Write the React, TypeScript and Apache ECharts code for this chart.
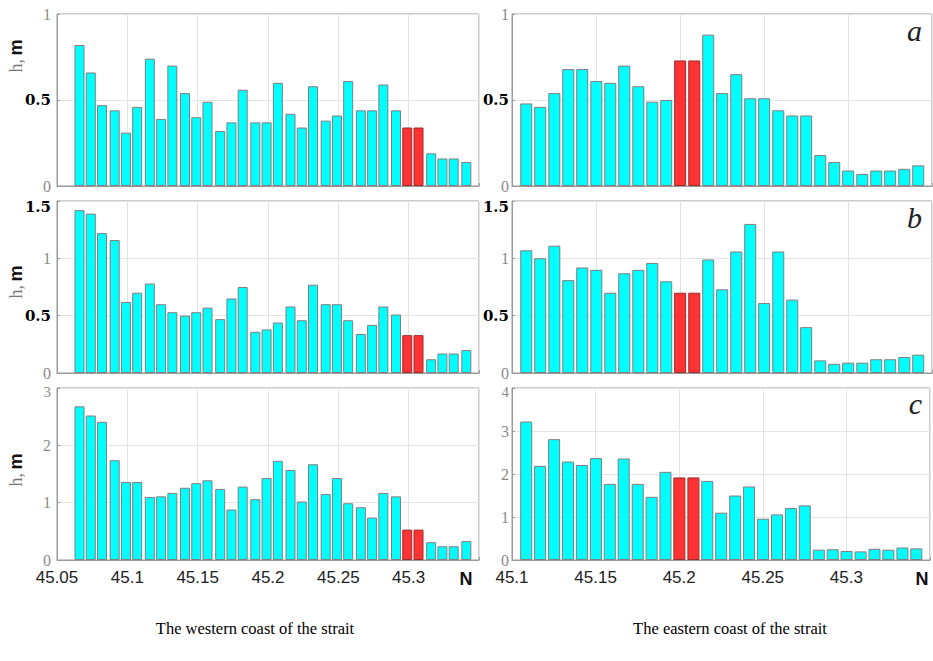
import React, { useEffect, useRef } from "react";
import * as echarts from "echarts";

// Latitudes (°N) of the coastal segments
const westLat = [
  45.066, 45.074, 45.082, 45.091, 45.099, 45.107, 45.116, 45.124, 45.132, 45.141,
  45.149, 45.157, 45.166, 45.174, 45.182, 45.191, 45.199, 45.207, 45.216, 45.224,
  45.232, 45.241, 45.249, 45.257, 45.266, 45.274, 45.282, 45.291, 45.299, 45.307,
  45.316, 45.324, 45.332, 45.341,
];
const eastLat = [
  45.1085, 45.1168, 45.1252, 45.1335, 45.1418, 45.1502, 45.1585, 45.1668, 45.1752, 45.1835,
  45.1918, 45.2001, 45.2085, 45.2168, 45.2251, 45.2335, 45.2418, 45.2501, 45.2585, 45.2668,
  45.2751, 45.2835, 45.2918, 45.3001, 45.3085, 45.3168, 45.3251, 45.3335, 45.3418,
];

// h, m — western coast
const westA = [
  0.82, 0.66, 0.47, 0.44, 0.31, 0.46, 0.74, 0.39, 0.7, 0.54,
  0.4, 0.49, 0.32, 0.37, 0.56, 0.37, 0.37, 0.6, 0.42, 0.34,
  0.58, 0.38, 0.41, 0.61, 0.44, 0.44, 0.59, 0.44, 0.34, 0.34,
  0.19, 0.16, 0.16, 0.14,
];
const westB = [
  1.42, 1.39, 1.22, 1.16, 0.62, 0.7, 0.78, 0.6, 0.53, 0.5,
  0.53, 0.57, 0.47, 0.65, 0.75, 0.36, 0.38, 0.44, 0.58, 0.46,
  0.77, 0.6, 0.6, 0.46, 0.34, 0.42, 0.58, 0.51, 0.33, 0.33,
  0.12, 0.17, 0.17, 0.2,
];
const westC = [
  2.68, 2.52, 2.41, 1.74, 1.36, 1.36, 1.1, 1.11, 1.17, 1.26,
  1.34, 1.39, 1.24, 0.88, 1.28, 1.06, 1.43, 1.73, 1.57, 1.02,
  1.67, 1.15, 1.43, 0.99, 0.92, 0.74, 1.17, 1.11, 0.53, 0.53,
  0.31, 0.24, 0.24, 0.33,
];

// h, m — eastern coast
const eastA = [
  0.48, 0.46, 0.54, 0.68, 0.68, 0.61, 0.6, 0.7, 0.58, 0.49,
  0.5, 0.73, 0.73, 0.88, 0.54, 0.65, 0.51, 0.51, 0.44, 0.41,
  0.41, 0.18, 0.14, 0.09, 0.07, 0.09, 0.09, 0.1, 0.12,
];
const eastB = [
  1.07, 1.0, 1.11, 0.81, 0.92, 0.9, 0.7, 0.87, 0.9, 0.96,
  0.8, 0.7, 0.7, 0.99, 0.73, 1.06, 1.3, 0.61, 1.06, 0.64,
  0.4, 0.11, 0.08, 0.09, 0.09, 0.12, 0.12, 0.14, 0.16,
];
const eastC = [
  3.22, 2.19, 2.81, 2.29, 2.21, 2.37, 1.77, 2.36, 1.77, 1.47,
  2.05, 1.92, 1.92, 1.84, 1.1, 1.5, 1.71, 0.96, 1.06, 1.21,
  1.27, 0.24, 0.25, 0.21, 0.2, 0.26, 0.24, 0.29, 0.27,
];

// indices of highlighted (red) segments
const westRed = [28, 29];
const eastRed = [11, 12];

const panelLetters = ["a", "b", "c"];
const yMax = [1, 1.5, 3, 1, 1.5, 4];
const yInterval = [0.5, 0.5, 1, 0.5, 0.5, 1];

const CYAN = "#00ffff";
const RED = "#ff3333";

export default function App() {
  const ref = useRef<HTMLDivElement>(null);

  useEffect(() => {
    if (!ref.current) return;
    const chart = echarts.init(ref.current, null, { renderer: "svg" });

    const tops = [14, 201, 388];
    const H = 172;
    const grids: any[] = [];
    const xAxes: any[] = [];
    const yAxes: any[] = [];
    const series: any[] = [];

    const panels = [
      { lat: westLat, vals: westA, red: westRed, side: 0, row: 0 },
      { lat: westLat, vals: westB, red: westRed, side: 0, row: 1 },
      { lat: westLat, vals: westC, red: westRed, side: 0, row: 2 },
      { lat: eastLat, vals: eastA, red: eastRed, side: 1, row: 0 },
      { lat: eastLat, vals: eastB, red: eastRed, side: 1, row: 1 },
      { lat: eastLat, vals: eastC, red: eastRed, side: 1, row: 2 },
    ];

    panels.forEach((p, i) => {
      const left = p.side === 0 ? 57 : 512;
      const width = p.side === 0 ? 422 : 420;
      grids.push({
        left,
        top: tops[p.row],
        width,
        height: H,
        show: true,
        borderColor: "#9a9a9a",
        borderWidth: 1,
        containLabel: false,
      });
      const bottomRow = p.row === 2;
      const topVal = yMax[i];
      xAxes.push({
        type: "value",
        gridIndex: i,
        min: p.side === 0 ? 45.05 : 45.1,
        max: 45.35,
        interval: 0.05,
        axisLine: { show: true, lineStyle: { color: "#9a9a9a" } },
        axisTick: { show: true, inside: true, length: 3, lineStyle: { color: "#9a9a9a" } },
        splitLine: { show: true, lineStyle: { color: "#e4e4e4", width: 1 } },
        axisLabel: {
          show: bottomRow,
          margin: 9,
          fontFamily: "Liberation Sans",
          fontSize: 17,
          color: "#222",
          formatter: (v: number) => (v > 45.345 ? "" : String(parseFloat(v.toFixed(2)))),
        },
      });
      yAxes.push({
        type: "value",
        gridIndex: i,
        min: 0,
        max: yMax[i],
        interval: yInterval[i],
        axisLine: { show: true, lineStyle: { color: "#9a9a9a" } },
        axisTick: { show: true, inside: true, length: 3, lineStyle: { color: "#9a9a9a" } },
        splitLine: { show: true, lineStyle: { color: "#e4e4e4", width: 1 } },
        axisLabel: {
          margin: p.side === 0 ? 6 : 3,
          formatter: (v: number) => {
            const bold = v === 0.5 || v === 1.5;
            const isTop = Math.abs(v - topVal) < 1e-9 && p.row > 0;
            if (bold) return isTop ? `{bt|${v}}` : `{b|${v}}`;
            return isTop ? `{gt|${v}}` : `{g|${v}}`;
          },
          rich: {
            b: { fontFamily: "DejaVu Serif", fontWeight: "bold", fontSize: 15, color: "#000" },
            bt: {
              fontFamily: "DejaVu Serif",
              fontWeight: "bold",
              fontSize: 15,
              color: "#000",
              padding: [12, 0, 0, 0],
            },
            g: { fontFamily: "Liberation Serif", fontSize: 16, color: "#8a8a8a" },
            gt: {
              fontFamily: "Liberation Serif",
              fontSize: 15,
              color: "#8a8a8a",
              padding: [8, 0, 0, 0],
            },
          },
        },
      });
      series.push({
        type: "bar",
        xAxisIndex: i,
        yAxisIndex: i,
        barWidth: p.side === 0 ? 10 : 12,
        itemStyle: { color: CYAN, borderColor: "#7f7f7f", borderWidth: 1 },
        data: p.lat.map((x, k) => {
          const isRed = p.red.indexOf(k) >= 0;
          return isRed
            ? { value: [x, p.vals[k]], itemStyle: { color: RED, borderColor: "#9b2b2b" } }
            : { value: [x, p.vals[k]] };
        }),
      });
    });

    const graphics: any[] = [];
    // y-axis titles "h, m"
    const hmCenters = [56, 282, 470];
    hmCenters.forEach((cy) => {
      graphics.push({
        type: "text",
        x: 16,
        y: cy,
        rotation: Math.PI / 2,
        style: {
          text: "{h|h,} {m|m}",
          align: "center",
          verticalAlign: "middle",
          rich: {
            h: { fontFamily: "Liberation Serif", fontSize: 18, fill: "#777" },
            m: { fontFamily: "Liberation Sans", fontWeight: "bold", fontSize: 18, fill: "#111" },
          },
        },
      });
    });
    // panel letters
    const letterBase = [45, 232, 418];
    panelLetters.forEach((l, r) => {
      graphics.push({
        type: "text",
        x: 922,
        y: letterBase[r],
        style: {
          text: l,
          align: "right",
          verticalAlign: "bottom",
          fontFamily: "Liberation Serif",
          fontStyle: "italic",
          fontSize: 30,
          fill: "#222",
        },
      });
    });
    // N labels
    [466, 922].forEach((x) => {
      graphics.push({
        type: "text",
        x,
        y: 579,
        style: {
          text: "N",
          align: "center",
          verticalAlign: "middle",
          fontFamily: "Liberation Sans",
          fontWeight: "bold",
          fontSize: 18,
          fill: "#111",
        },
      });
    });
    // captions
    graphics.push({
      type: "text",
      x: 255,
      y: 628,
      style: {
        text: "The western coast of the strait",
        align: "center",
        verticalAlign: "middle",
        fontFamily: "Liberation Serif",
        fontSize: 16.5,
        fill: "#000",
      },
    });
    graphics.push({
      type: "text",
      x: 730,
      y: 628,
      style: {
        text: "The eastern coast of the strait",
        align: "center",
        verticalAlign: "middle",
        fontFamily: "Liberation Serif",
        fontSize: 16.5,
        fill: "#000",
      },
    });

    chart.setOption({
      animation: false,
      backgroundColor: "#fff",
      grid: grids,
      xAxis: xAxes,
      yAxis: yAxes,
      series,
      graphic: graphics,
    });

    return () => chart.dispose();
  }, []);

  return (
    <div
      ref={ref}
      style={{ position: "fixed", left: 0, top: 0, width: 933, height: 661, background: "#fff" }}
    />
  );
}
